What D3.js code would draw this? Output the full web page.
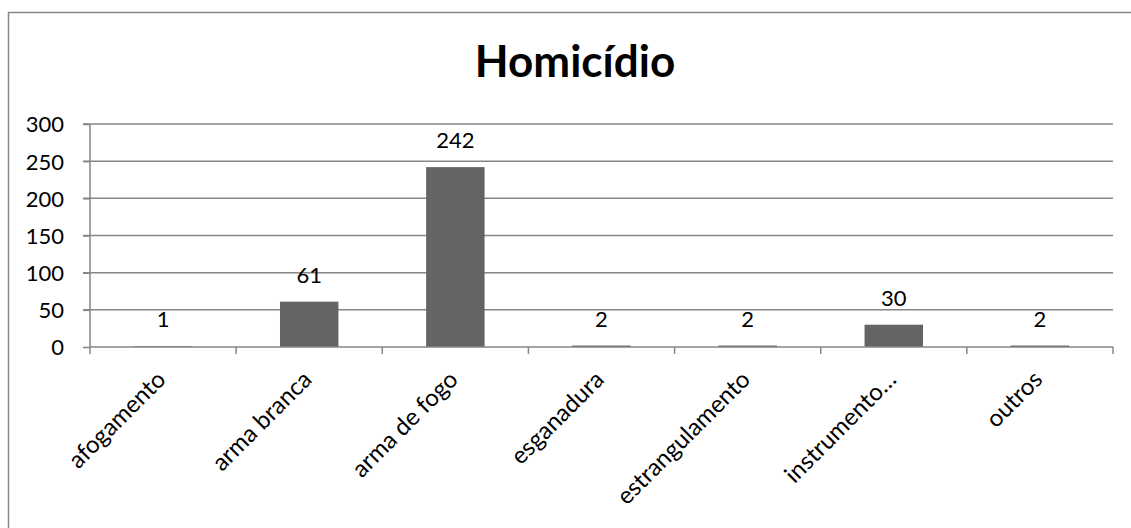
<!DOCTYPE html>
<html><head><meta charset="utf-8">
<script src="https://cdn.jsdelivr.net/npm/d3@7"></script>
<style>body{margin:0;background:#fff}svg{display:block}text{font-family:Lato,"Open Sans",sans-serif}</style>
</head><body>
<svg id="c" width="1131" height="528"></svg>
<script>
const categories = ["afogamento","arma branca","arma de fogo","esganadura","estrangulamento","instrumento…","outros"];
const values = [1, 61, 242, 2, 2, 30, 2];
const yTicks = [0, 50, 100, 150, 200, 250, 300];
const title = "Homicídio";

const svg = d3.select("#c");
const m = {left: 90, right: 1113, top: 124, bottom: 347};
svg.append("rect").attr("x", 8.5).attr("y", 12.5).attr("width", 1300).attr("height", 700)
  .attr("fill", "#fff").attr("stroke", "#868686").attr("stroke-width", 1.5);

const x = d3.scaleBand().domain(categories).range([m.left, m.right]).paddingInner(0.6).paddingOuter(0.3);
const xb = d3.scaleBand().domain(categories).range([m.left, m.right]);
const y = d3.scaleLinear().domain([0, 300]).range([m.bottom, m.top]);

svg.append("text").attr("x", 575).attr("y", 77).attr("text-anchor", "middle")
  .attr("font-size", 44).attr("font-weight", "bold").attr("fill", "#000").text(title);

// gridlines
svg.append("g").selectAll("line").data(yTicks.filter(d => d > 0)).join("line")
  .attr("x1", m.left - 7).attr("x2", m.right).attr("y1", d => y(d)).attr("y2", d => y(d))
  .attr("stroke", "#868686").attr("stroke-width", 1.5);

// y axis
const ya = svg.append("g").attr("transform", `translate(${m.left},0)`)
  .call(d3.axisLeft(y).tickValues(yTicks).tickSize(7).tickPadding(19));
ya.select(".domain").attr("stroke", "#868686").attr("stroke-width", 1.5).attr("d", `M0,${m.top}V${m.bottom}`);
ya.selectAll(".tick line").attr("stroke", "#868686").attr("stroke-width", 1.5);
ya.selectAll(".tick text").attr("font-size", 22).attr("fill", "#000").attr("font-family", "Lato,sans-serif").attr("dy", "0.36em");

// bars
svg.append("g").selectAll("rect").data(values).join("rect")
  .attr("x", (d, i) => x(categories[i])).attr("width", x.bandwidth())
  .attr("y", d => y(d)).attr("height", d => y(0) - y(d)).attr("fill", "#646464");

// x axis
svg.append("line").attr("x1", m.left).attr("x2", m.right).attr("y1", y(0)).attr("y2", y(0))
  .attr("stroke", "#868686").attr("stroke-width", 1.5);
const bounds = categories.map(c => xb(c)).concat([m.right]);
svg.append("g").selectAll("line").data(bounds).join("line")
  .attr("x1", d => d).attr("x2", d => d).attr("y1", y(0)).attr("y2", y(0) + 7)
  .attr("stroke", "#868686").attr("stroke-width", 1.5);

// data labels
svg.append("g").selectAll("text").data(values).join("text")
  .attr("x", (d, i) => x(categories[i]) + x.bandwidth() / 2).attr("y", d => y(d) - 19)
  .attr("text-anchor", "middle").attr("font-size", 22).attr("fill", "#000").text(d => d);

// category labels
svg.append("g").selectAll("text").data(categories).join("text")
  .attr("text-anchor", "end").attr("font-size", 24).attr("fill", "#000")
  .attr("transform", c => `translate(${xb(c) + xb.bandwidth() / 2 + 4},${y(0) + 34}) rotate(-45)`)
  .text(c => c);
</script>
</body></html>
